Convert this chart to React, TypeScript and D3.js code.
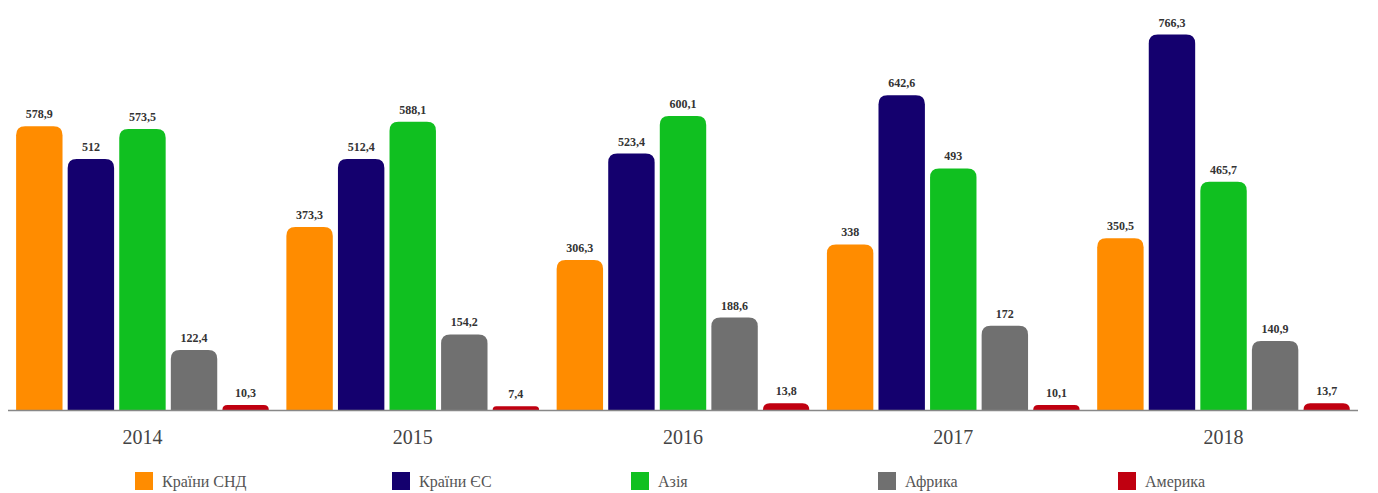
import React from "react";
import * as d3 from "d3";

const years = ["2014", "2015", "2016", "2017", "2018"];
const seriesNames = ["Країни СНД", "Країни ЄС", "Азія", "Африка", "Америка"];
const seriesColors = ["#FF8C00", "#14006E", "#10C020", "#707070", "#C00010"];
const cis = [578.9, 373.3, 306.3, 338, 350.5];
const eu = [512, 512.4, 523.4, 642.6, 766.3];
const asia = [573.5, 588.1, 600.1, 493, 465.7];
const africa = [122.4, 154.2, 188.6, 172, 140.9];
const america = [10.3, 7.4, 13.8, 10.1, 13.7];
const series = [cis, eu, asia, africa, america];

const W = 1378;
const H = 493;
const left = 8;
const right = 1358;
const baseY = 410;
const FONT = "'Liberation Serif', 'DejaVu Serif', 'Times New Roman', serif";

function fmt(v: number) {
  return String(v).replace(".", ",");
}

function barPath(x: number, y: number, w: number, h: number, r: number) {
  const rr = Math.min(r, h, w / 2);
  return `M${x},${y + h} L${x},${y + rr} Q${x},${y} ${x + rr},${y} L${x + w - rr},${y} Q${x + w},${y} ${x + w},${y + rr} L${x + w},${y + h} Z`;
}

export default function App() {
  const x0 = d3.scaleBand<string>().domain(years).range([left, right]).paddingInner(0.065).paddingOuter(0.03);
  const x1 = d3.scaleBand<number>().domain(d3.range(5)).range([0, x0.bandwidth()]).paddingInner(0.1);
  const y = d3.scaleLinear().domain([0, 800]).range([baseY, 18]);
  const legendX = [135, 392, 631, 878, 1118];

  return (
    <svg width={W} height={H} style={{ position: "absolute", left: 0, top: 0, background: "#fff" }}>
      {years.map((yr, i) => (
        <g key={yr}>
          {series.map((s, j) => {
            const bx = (x0(yr) as number) + (x1(j) as number);
            const by = y(s[i]);
            const h = baseY - by;
            return (
              <g key={j}>
                <path d={barPath(bx, by, x1.bandwidth(), h, 9)} fill={seriesColors[j]} />
                <text
                  x={bx + x1.bandwidth() / 2}
                  y={by - 8}
                  textAnchor="middle"
                  fontFamily={FONT}
                  fontWeight="bold"
                  fontSize={12}
                  fill="#333"
                >
                  {fmt(s[i])}
                </text>
              </g>
            );
          })}
          <text
            x={(x0(yr) as number) + x0.bandwidth() / 2}
            y={444}
            textAnchor="middle"
            fontFamily={FONT}
            fontSize={20}
            fill="#444"
          >
            {yr}
          </text>
        </g>
      ))}
      <line x1={left} x2={right} y1={baseY + 0.5} y2={baseY + 0.5} stroke="#888" strokeWidth={1.5} />
      {seriesNames.map((n, j) => (
        <g key={n}>
          <rect x={legendX[j]} y={472} width={18} height={18} fill={seriesColors[j]} />
          <text x={legendX[j] + 27} y={487} fontFamily={FONT} fontSize={16} fill="#555">
            {n}
          </text>
        </g>
      ))}
    </svg>
  );
}
